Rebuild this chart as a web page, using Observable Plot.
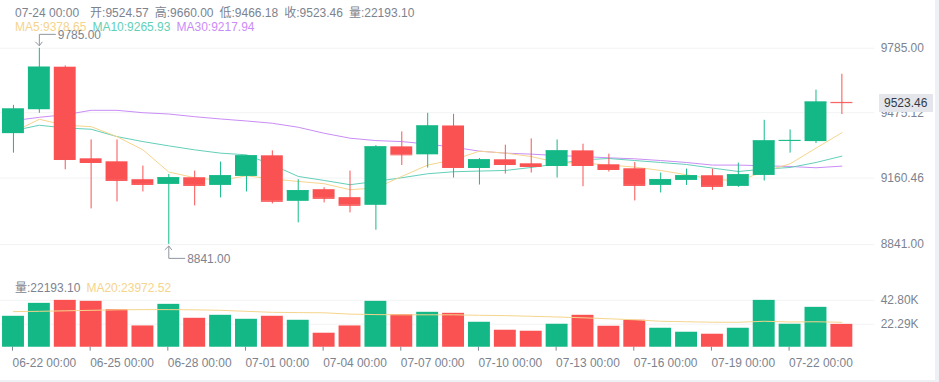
<!DOCTYPE html>
<html>
<head>
<meta charset="utf-8">
<script src="https://cdn.jsdelivr.net/npm/d3@7"></script>
<script src="https://cdn.jsdelivr.net/npm/@observablehq/plot@0.6"></script>
<style>
html, body { margin: 0; padding: 0; background: #edf0f5; }
#wrap { position: relative; width: 935px; height: 380px; background: #fff; overflow: hidden;
  font-family: "Helvetica Neue", Arial, "Liberation Sans", "Noto Sans CJK SC", sans-serif; font-size: 12px; }
#price { position: absolute; left: 0; top: 0; }
#vol { position: absolute; left: 0; top: 269px; }
.legend { position: absolute; left: 15px; white-space: nowrap; color: #7c838f; line-height: 14px; }
.legend span { margin-right: 6px; }
#lastLabel { position: absolute; left: 879px; width: 54px; height: 18px; line-height: 18px; background: #e4e6eb;
  color: #333a45; padding-left: 5px; box-sizing: border-box; }
</style>
</head>
<body>
<div id="wrap">
  <div id="price"></div>
  <div id="vol"></div>
  <div class="legend" id="legend1" style="top:6px"></div>
  <div class="legend" id="legend2" style="top:20px"></div>
  <div class="legend" id="legend3" style="top:281px"></div>
  <div id="lastLabel"></div>
</div>
<script>
// ---- data ----
const dates = ["06-22","06-23","06-24","06-25","06-26","06-27","06-28","06-29","06-30","07-01","07-02",
  "07-03","07-04","07-05","07-06","07-07","07-08","07-09","07-10","07-11","07-12","07-13","07-14",
  "07-15","07-16","07-17","07-18","07-19","07-20","07-21","07-22","07-23","07-24"];
const open  = [9374.3,9489.3,9694.0,9253.1,9238.7,9152.5,9129.9,9162.0,9125.1,9168.3,9267.5,
  9048.5,9104.5,9066.2,9029.3,9310.6,9272.3,9411.2,9206.6,9248.3,9229.1,9216.2,9291.4,
  9224.3,9205.2,9125.1,9149.1,9171.6,9120.3,9173.1,9339.3,9336.0,9524.57];
const high  = [9510.4,9785.0,9700.2,9344.1,9344.1,9218.1,9177.9,9194.1,9237.3,9269.0,9291.4,
  9152.5,9114.1,9194.1,9316.8,9382.5,9472.1,9467.3,9254.5,9318.7,9348.9,9344.1,9323.5,
  9275.6,9235.4,9184.6,9203.7,9203.7,9232.5,9438.5,9392.1,9583.7,9660.00];
const low   = [9280.4,9472.1,9200.4,9012.0,9045.6,9093.5,8841.0,9026.4,9064.8,9093.5,9036.0,
  8945.0,9040.8,8992.9,8909.5,9221.0,9208.5,9160.6,9127.0,9179.8,9184.6,9160.6,9118.9,
  9189.4,9050.4,9088.7,9125.1,9101.2,9115.6,9146.2,9280.4,9326.4,9466.18];
const close = [9492.7,9694.0,9249.7,9235.4,9149.1,9129.9,9162.0,9125.1,9171.6,9267.5,9048.5,
  9099.7,9062.8,9029.3,9310.6,9272.3,9411.2,9211.4,9248.3,9225.8,9216.2,9291.4,9221.0,
  9201.8,9125.1,9152.5,9171.6,9120.3,9176.4,9339.3,9341.6,9526.2,9523.46];
const volume = [29130,40240,42800,41950,34850,20840,39380,27420,29980,26560,29130,
  25710,14600,20840,41950,30580,32550,31690,24000,17160,16310,22290,29980,
  20580,25710,18870,15450,13740,18870,42800,22290,36820,22193.10];
const ma5  = [9382.5,9443.3,9414.6,9407.9,9359.9,9296.2,9189.4,9162.0,9149.1,9171.6,9155.8,
  9144.3,9133.3,9104.5,9112.7,9168.3,9222.9,9248.3,9290.0,9280.4,9264.1,9235.4,9232.5,
  9222.9,9213.3,9197.0,9176.4,9155.8,9146.2,9192.2,9229.1,9304.4,9378.65];
const ma10 = [9388.7,9414.6,9401.6,9395.4,9359.9,9336.0,9315.4,9296.2,9280.4,9272.3,9224.3,
  9168.3,9149.1,9128.5,9144.3,9162.0,9181.2,9190.8,9194.1,9197.0,9211.4,9229.1,9248.3,
  9254.5,9244.9,9235.4,9225.8,9208.5,9192.2,9203.7,9211.4,9235.4,9265.93];
const ma30 = [9436.6,9452.9,9465.4,9486.5,9486.5,9475.0,9468.7,9455.8,9444.8,9435.2,9424.2,
  9405.0,9376.2,9352.3,9340.8,9336.0,9324.0,9309.2,9290.0,9280.4,9275.6,9268.9,9264.1,
  9257.9,9253.1,9244.9,9235.4,9222.9,9222.9,9219.5,9216.2,9210.0,9217.94];
const volMa20 = [33140,33400,33830,34250,34680,34850,34850,34680,34250,33400,32540,
  32290,32120,31010,30580,30410,30410,30410,29980,29720,29130,28530,27840,
  26990,26140,24850,24430,24000,24000,24850,24250,24430,23972.52];
const priceTicks = [8841.00, 9160.46, 9475.12, 9785.00];
const volTicks = [22290, 42800];
const xTicks = ["06-22","06-25","06-28","07-01","07-04","07-07","07-10","07-13","07-16","07-19","07-22"];
const timeSuffix = " 00:00";

// ---- styles ----
const GREEN = "#14b886", RED = "#fa5252";
const C_MA5 = "#f5d48c", C_MA10 = "#62cfb8", C_MA30 = "#c98cf6";
const GRID = "#f2f3f5", AXIS = "#939aa4", TEXT = "#7c838f";
const FONT = '"Helvetica Neue", Arial, "Liberation Sans", "Noto Sans CJK SC", sans-serif';

const candles = dates.map((d, i) => ({
  date: d, open: open[i], high: high[i], low: low[i], close: close[i], volume: volume[i],
  ma5: ma5[i], ma10: ma10[i], ma30: ma30[i], volMa20: volMa20[i],
  color: close[i] >= open[i] ? GREEN : RED
}));

const xScale = {type: "band", domain: dates, range: [0, 858], paddingInner: 4/26, paddingOuter: 2/26, align: 0.5, axis: null};
const styleObj = {fontFamily: FONT, fontSize: "12px", overflow: "visible", background: "transparent"};

const price = Plot.plot({
  width: 939, height: 269, marginLeft: 0, marginRight: 61, marginTop: 0, marginBottom: 0,
  style: styleObj,
  x: xScale,
  y: {domain: [8841, 9785], range: [245, 48], axis: null},
  marks: [
    Plot.ruleY(priceTicks, {stroke: GRID}),
    Plot.axisY({anchor: "right", ticks: priceTicks, tickSize: 0, tickPadding: 6,
      tickFormat: d => d.toFixed(2), color: TEXT, label: null}),
    Plot.axisY({anchor: "right", ticks: [], line: true, color: AXIS, label: null}),
    Plot.line(candles, {x: "date", y: "ma30", stroke: C_MA30, strokeWidth: 1}),
    Plot.line(candles, {x: "date", y: "ma10", stroke: C_MA10, strokeWidth: 1}),
    Plot.line(candles, {x: "date", y: "ma5", stroke: C_MA5, strokeWidth: 1}),
    Plot.ruleX(candles, {x: "date", y1: "low", y2: "high", stroke: "color", strokeWidth: 1}),
    Plot.barY(candles, {x: "date", y1: "open", y2: "close", fill: "color"}),
    Plot.tickY(candles, {x: "date", y: "close", stroke: "color"})
  ]
});
document.getElementById("price").appendChild(price);

const vol = Plot.plot({
  width: 939, height: 111, marginLeft: 0, marginRight: 61, marginTop: 0, marginBottom: 33,
  style: styleObj,
  x: xScale,
  y: {domain: volTicks, range: [55, 31], axis: null},
  marks: [
    Plot.ruleY(volTicks, {stroke: GRID}),
    Plot.barY(candles, {x: "date", y: "volume", fill: "color", clip: true}),
    Plot.line(candles, {x: "date", y: "volMa20", stroke: C_MA5, strokeWidth: 1}),
    Plot.axisY({anchor: "right", ticks: volTicks, tickSize: 0, tickPadding: 6,
      tickFormat: d => (d / 1000).toFixed(2) + "K", color: TEXT, label: null}),
    Plot.axisY({anchor: "right", ticks: [], line: true, color: AXIS, label: null}),
    Plot.axisX({anchor: "bottom", ticks: xTicks, tickSize: 4, tickPadding: 7, textAnchor: "start", dx: -1,
      tickFormat: d => d + timeSuffix, color: TEXT, label: null}),
    Plot.axisX({anchor: "bottom", ticks: [], line: true, color: AXIS, label: null}),
    Plot.axisX({anchor: "top", ticks: [], line: true, color: AXIS, label: null})
  ]
});
document.getElementById("vol").appendChild(vol);

// ---- max / min annotations through the plot's scales ----
const xs = price.scale("x"), ys = price.scale("y");
const cx = d => xs.apply(d) + xs.bandwidth / 2;
const svg = d3.select(price);
const iMax = d3.maxIndex(high), iMin = d3.minIndex(low);
function marker(i, value, dir) {
  const x = cx(dates[i]), y = ys.apply(value);
  const tip = y - dir * 2, end = y - dir * 14;
  const g = svg.append("g").attr("fill", "none").attr("stroke", "#8f959e").attr("stroke-width", 1);
  g.append("path").attr("d", `M${x - 3.5},${tip - dir * 4}L${x + 0.5},${tip}L${x + 3.5},${tip - dir * 4}`);
  g.append("path").attr("d", `M${x + 0.5},${tip}V${end + 0.5}H${x + 17}`);
  svg.append("text").attr("x", x + 19).attr("y", end + 1.5).attr("dominant-baseline", "middle")
    .attr("text-anchor", "start").attr("fill", "#7c838f").attr("font-size", 12).text(value.toFixed(2));
}
marker(iMax, high[iMax], 1);
marker(iMin, low[iMin], -1);

// ---- last price label on the axis ----
const n = dates.length - 1;
const lab = document.getElementById("lastLabel");
lab.textContent = close[n].toFixed(2);
lab.style.top = (ys.apply(close[n]) - 9) + "px";

// ---- legends ----
const fmt = v => v.toFixed(2);
document.getElementById("legend1").innerHTML =
  `<span style="margin-right:11px">${dates[n]}${timeSuffix}</span><span>开:${fmt(open[n])}</span><span>高:${fmt(high[n])}</span>` +
  `<span>低:${fmt(low[n])}</span><span>收:${fmt(close[n])}</span><span>量:${fmt(volume[n])}</span>`;
document.getElementById("legend2").innerHTML =
  `<span style="color:${C_MA5}">MA5:${fmt(ma5[n])}</span><span style="color:${C_MA10}">MA10:${fmt(ma10[n])}</span>` +
  `<span style="color:${C_MA30}">MA30:${fmt(ma30[n])}</span>`;
document.getElementById("legend3").innerHTML =
  `<span>量:${fmt(volume[n])}</span><span style="color:${C_MA5}">MA20:${fmt(volMa20[n])}</span>`;
</script>
</body>
</html>
